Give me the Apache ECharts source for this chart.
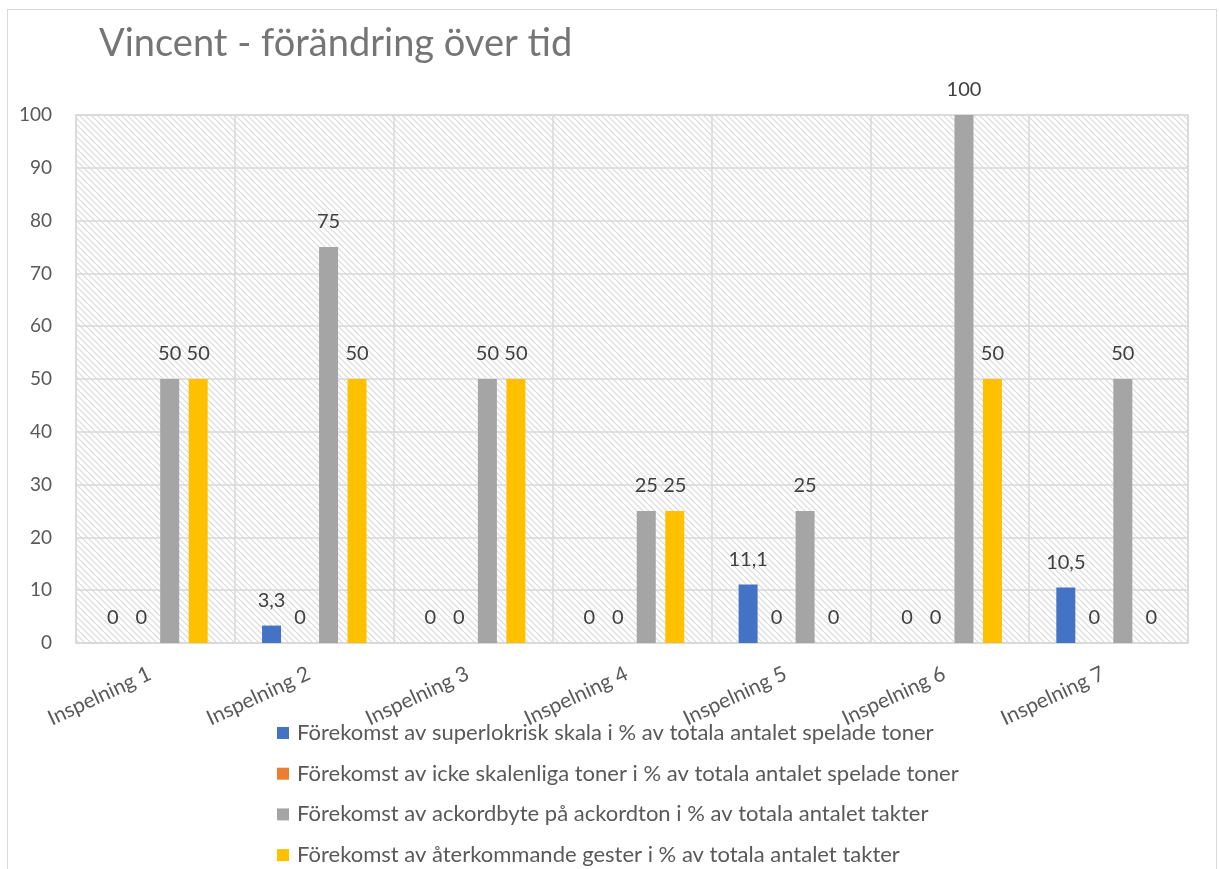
<!DOCTYPE html>
<html>
<head>
<meta charset="utf-8">
<script src="https://cdn.jsdelivr.net/npm/echarts@6/dist/echarts.min.js"></script>
<style>
  html, body { margin: 0; padding: 0; background: #ffffff; overflow: hidden; width: 1219px; height: 869px; }
  #frame {
    position: absolute; left: 7px; top: 9px; width: 1210px; height: 920px;
    border: 1px solid #d9d9d9; box-sizing: border-box;
  }
  /* the chart runs past the bottom edge, so the last legend row is cut off */
  #chart { position: absolute; left: 0; top: 0; width: 1219px; height: 920px; }
</style>
</head>
<body>
<div id="frame"></div>
<div id="chart"></div>
<script>
// Recordings on the category axis
const categories = ['Inspelning 1', 'Inspelning 2', 'Inspelning 3', 'Inspelning 4', 'Inspelning 5', 'Inspelning 6', 'Inspelning 7'];

// Series names (legend)
const seriesNames = [
  'Förekomst av superlokrisk skala i % av totala antalet spelade toner',
  'Förekomst av icke skalenliga toner i % av totala antalet spelade toner',
  'Förekomst av ackordbyte på ackordton i % av totala antalet takter',
  'Förekomst av återkommande gester i % av totala antalet takter'
];

// Values per series, one per recording
const superlokrisk = [0, 3.3, 0, 0, 11.1, 0, 10.5];
const ickeSkalenliga = [0, 0, 0, 0, 0, 0, 0];
const ackordbyte = [50, 75, 50, 25, 25, 100, 50];
const aterkommande = [50, 50, 50, 25, 0, 50, 0];

const seriesColors = ['#4472C4', '#ED7D31', '#A5A5A5', '#FFC000'];

// Diagonal hatch fill for the plot area
function makeHatch() {
  const s = 6;
  const c = document.createElement('canvas');
  c.width = s; c.height = s;
  const g = c.getContext('2d');
  g.fillStyle = '#ffffff';
  g.fillRect(0, 0, s, s);
  g.strokeStyle = '#d9d9d9';
  g.lineWidth = 1.1;
  g.beginPath();
  g.moveTo(-1, -1); g.lineTo(s + 1, s + 1);
  g.moveTo(-1, s - 1); g.lineTo(1, s + 1);
  g.moveTo(s - 1, -1); g.lineTo(s + 1, 1);
  g.stroke();
  return c;
}

const FONT = 'Lato, "Open Sans", sans-serif';
const fmt = p => String(p.value).replace('.', ',');

const chart = echarts.init(document.getElementById('chart'), null, { renderer: 'canvas' });

const values = [superlokrisk, ickeSkalenliga, ackordbyte, aterkommande];

chart.setOption({
  animation: false,
  backgroundColor: 'transparent',
  title: {
    text: 'Vincent - förändring över tid',
    left: 94,
    top: 20,
    textStyle: { fontFamily: FONT, fontSize: 38, fontWeight: 'normal', color: '#757575' }
  },
  grid: {
    left: 76, right: 31, top: 115, bottom: 277,
    show: true,
    backgroundColor: { image: makeHatch(), repeat: 'repeat' },
    borderColor: '#d9d9d9',
    borderWidth: 1.5
  },
  legend: {
    orient: 'vertical',
    left: 272,
    top: 717,
    height: 200,
    itemWidth: 12,
    itemHeight: 12,
    itemGap: 18.7,
    icon: 'rect',
    data: seriesNames,
    textStyle: { fontFamily: FONT, fontSize: 22, color: '#595959', lineHeight: 22, padding: [0, 0, 0, 3] }
  },
  xAxis: {
    type: 'category',
    data: categories,
    axisLine: { show: true, lineStyle: { color: '#d9d9d9', width: 1.5 } },
    axisTick: { show: false },
    splitLine: { show: true, lineStyle: { color: '#d9d9d9', width: 1.5 } },
    axisLabel: {
      rotate: 25,
      margin: 27,
      interval: 0,
      fontFamily: FONT,
      fontSize: 21,
      color: '#595959',
      padding: [0, 6, 0, 0]
    }
  },
  yAxis: {
    type: 'value',
    min: 0,
    max: 100,
    interval: 10,
    axisLine: { show: false },
    axisTick: { show: false },
    splitLine: { show: true, lineStyle: { color: '#d9d9d9', width: 1.5 } },
    axisLabel: { margin: 24, fontFamily: FONT, fontSize: 19, color: '#595959' }
  },
  series: seriesNames.map((name, i) => ({
    name,
    type: 'bar',
    data: values[i],
    barWidth: 19,
    barGap: '50%',
    itemStyle: { color: seriesColors[i] },
    label: {
      show: true,
      position: 'top',
      distance: 15,
      formatter: fmt,
      fontFamily: FONT,
      fontSize: 20,
      color: '#404040'
    }
  }))
});
</script>
</body>
</html>
